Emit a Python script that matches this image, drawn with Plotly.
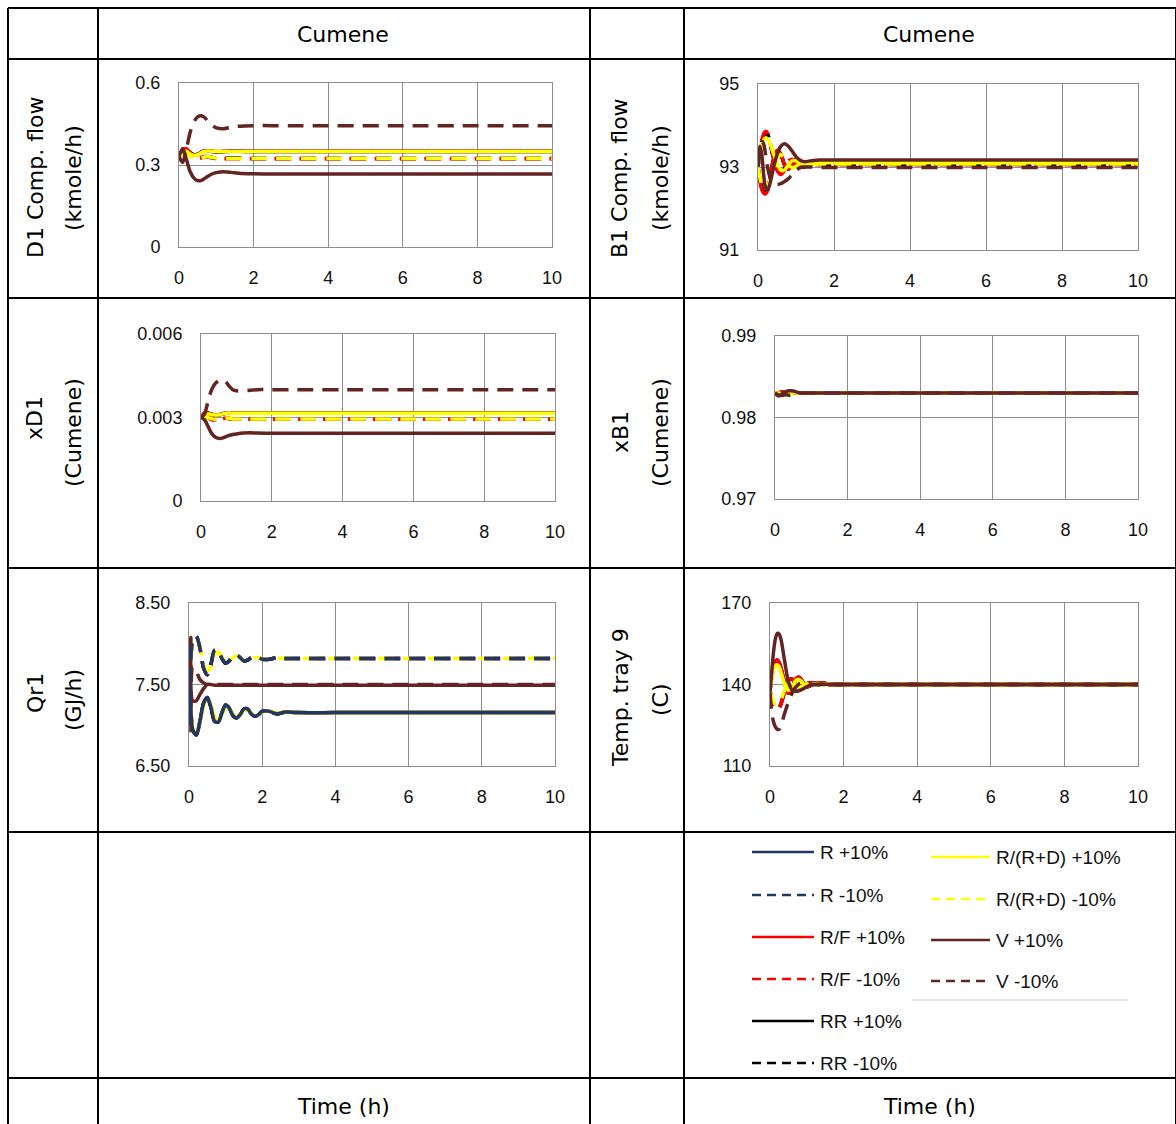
import plotly.graph_objects as go

W, H = 1176, 1124

# ---- series names, colours and styles --------------------------------------
series = ["R +10%", "R -10%", "R/F +10%", "R/F -10%", "RR +10%", "RR -10%",
          "R/(R+D) +10%", "R/(R+D) -10%", "V +10%", "V -10%"]
colors = {"R": "#1F3864", "R/F": "#FF0000", "RR": "#000000",
          "R/(R+D)": "#FFFF00", "V": "#632523"}

# ---- D1 component flow (kmole/h) -------------------------------------------
t_d1 = [0, 0.1, 0.2, 0.3, 0.4, 0.5, 0.6, 0.7, 0.8, 0.9, 1.0, 1.2, 1.4, 1.6, 2.0, 2.5, 3, 4, 6, 8, 10]
d1 = {
    "R +10%":        [0.33, 0.35, 0.355, 0.345, 0.338, 0.34, 0.347, 0.352, 0.351, 0.349, 0.348, 0.349, 0.35, 0.35, 0.349, 0.349, 0.349, 0.349, 0.349, 0.349, 0.349],
    "R -10%":        [0.33, 0.34, 0.345, 0.335, 0.325, 0.322, 0.327, 0.331, 0.329, 0.326, 0.324, 0.324, 0.325, 0.325, 0.324, 0.324, 0.324, 0.324, 0.324, 0.324, 0.324],
    "R/F +10%":      [0.33, 0.355, 0.36, 0.345, 0.335, 0.338, 0.346, 0.352, 0.352, 0.35, 0.349, 0.35, 0.35, 0.35, 0.35, 0.35, 0.35, 0.35, 0.35, 0.35, 0.35],
    "R/F -10%":      [0.33, 0.345, 0.35, 0.338, 0.33, 0.325, 0.326, 0.33, 0.331, 0.328, 0.326, 0.324, 0.323, 0.323, 0.323, 0.323, 0.323, 0.323, 0.323, 0.323, 0.323],
    "RR +10%":       [0.33, 0.35, 0.355, 0.345, 0.338, 0.34, 0.347, 0.352, 0.351, 0.349, 0.348, 0.349, 0.35, 0.35, 0.349, 0.349, 0.349, 0.349, 0.349, 0.349, 0.349],
    "RR -10%":       [0.33, 0.34, 0.345, 0.335, 0.325, 0.322, 0.327, 0.331, 0.329, 0.326, 0.324, 0.324, 0.325, 0.325, 0.324, 0.324, 0.324, 0.324, 0.324, 0.324, 0.324],
    "R/(R+D) +10%":  [0.33, 0.345, 0.35, 0.34, 0.335, 0.338, 0.345, 0.35, 0.351, 0.35, 0.349, 0.349, 0.349, 0.349, 0.349, 0.349, 0.349, 0.349, 0.349, 0.349, 0.349],
    "R/(R+D) -10%":  [0.33, 0.34, 0.342, 0.333, 0.325, 0.322, 0.325, 0.33, 0.33, 0.327, 0.325, 0.324, 0.324, 0.324, 0.324, 0.324, 0.324, 0.324, 0.324, 0.324, 0.324],
    "V +10%":        [0.33, 0.36, 0.32, 0.275, 0.252, 0.243, 0.244, 0.252, 0.261, 0.268, 0.272, 0.275, 0.273, 0.27, 0.268, 0.267, 0.267, 0.267, 0.267, 0.267, 0.267],
    "V -10%":        [0.33, 0.31, 0.36, 0.42, 0.458, 0.476, 0.48, 0.472, 0.456, 0.443, 0.436, 0.433, 0.438, 0.442, 0.444, 0.444, 0.444, 0.444, 0.444, 0.444, 0.444],
}

# ---- B1 component flow (kmole/h) -------------------------------------------
t_b1 = [0, 0.05, 0.1, 0.15, 0.2, 0.25, 0.3, 0.4, 0.5, 0.6, 0.7, 0.8, 0.9, 1.0, 1.1, 1.2, 1.4, 1.6, 1.8, 2.0, 2.5, 3, 4, 6, 8, 10]
b1 = {
    "R +10%":        [93.0, 92.7, 92.5, 92.4, 92.38, 92.45, 92.65, 93.15, 93.38, 93.3, 93.05, 92.95, 93.05, 93.18, 93.15, 93.08, 93.1, 93.12, 93.12, 93.12, 93.12, 93.12, 93.12, 93.12, 93.12, 93.12],
    "R -10%":        [93.0, 93.35, 93.6, 93.75, 93.82, 93.8, 93.65, 93.25, 92.95, 92.85, 92.95, 93.15, 93.18, 93.1, 93.0, 93.0, 93.08, 93.08, 93.08, 93.08, 93.08, 93.08, 93.08, 93.08, 93.08, 93.08],
    "R/F +10%":      [93.0, 92.65, 92.45, 92.37, 92.35, 92.42, 92.62, 93.15, 93.4, 93.32, 93.05, 92.95, 93.05, 93.2, 93.15, 93.08, 93.1, 93.12, 93.12, 93.12, 93.12, 93.12, 93.12, 93.12, 93.12, 93.12],
    "R/F -10%":      [93.0, 93.4, 93.65, 93.8, 93.86, 93.82, 93.65, 93.25, 92.92, 92.82, 92.92, 93.15, 93.18, 93.1, 93.0, 92.98, 93.06, 93.06, 93.06, 93.06, 93.06, 93.06, 93.06, 93.06, 93.06, 93.06],
    "RR +10%":       [93.0, 92.7, 92.5, 92.4, 92.38, 92.45, 92.65, 93.15, 93.38, 93.3, 93.05, 92.95, 93.05, 93.18, 93.15, 93.08, 93.1, 93.12, 93.12, 93.12, 93.12, 93.12, 93.12, 93.12, 93.12, 93.12],
    "RR -10%":       [93.0, 93.35, 93.6, 93.75, 93.82, 93.8, 93.65, 93.25, 92.95, 92.85, 92.95, 93.15, 93.18, 93.1, 93.0, 93.0, 93.06, 93.06, 93.06, 93.06, 93.06, 93.06, 93.06, 93.06, 93.06, 93.06],
    "R/(R+D) +10%":  [93.0, 93.3, 93.55, 93.65, 93.7, 93.68, 93.6, 93.35, 93.1, 92.92, 92.93, 93.05, 93.15, 93.15, 93.1, 93.07, 93.08, 93.1, 93.1, 93.1, 93.1, 93.1, 93.1, 93.1, 93.1, 93.1],
    "R/(R+D) -10%":  [93.0, 92.75, 92.55, 92.48, 92.47, 92.52, 92.65, 92.95, 93.2, 93.3, 93.2, 93.05, 92.98, 93.02, 93.08, 93.1, 93.07, 93.07, 93.07, 93.07, 93.07, 93.07, 93.07, 93.07, 93.07, 93.07],
    "V +10%":        [93.0, 93.5, 93.3, 92.8, 92.5, 92.45, 92.55, 92.95, 93.3, 93.5, 93.56, 93.5, 93.38, 93.25, 93.17, 93.13, 93.15, 93.17, 93.17, 93.17, 93.17, 93.17, 93.17, 93.17, 93.17, 93.17],
    "V -10%":        [93.0, 93.4, 93.62, 93.55, 93.3, 93.0, 92.8, 92.6, 92.58, 92.6, 92.65, 92.72, 92.82, 92.92, 92.98, 93.0, 93.0, 92.99, 92.99, 92.99, 92.99, 92.99, 92.99, 92.99, 92.99, 92.99],
}

# ---- xD1 (Cumene) -----------------------------------------------------------
t_xd1 = [0, 0.1, 0.2, 0.3, 0.4, 0.5, 0.6, 0.7, 0.8, 0.9, 1.0, 1.2, 1.4, 1.6, 2.0, 2.5, 3, 4, 6, 8, 10]
xd1 = {
    "R +10%":        [0.00300, 0.00312, 0.00315, 0.00312, 0.00309, 0.00309, 0.00312, 0.00315, 0.00316, 0.00315, 0.00315, 0.00315, 0.00315, 0.00315, 0.00315, 0.00315, 0.00315, 0.00315, 0.00315, 0.00315, 0.00315],
    "R -10%":        [0.00300, 0.00305, 0.00302, 0.00296, 0.00293, 0.00294, 0.00297, 0.00298, 0.00296, 0.00295, 0.00295, 0.00295, 0.00295, 0.00295, 0.00295, 0.00295, 0.00295, 0.00295, 0.00295, 0.00295, 0.00295],
    "R/F +10%":      [0.00300, 0.00318, 0.00316, 0.00311, 0.00308, 0.00310, 0.00314, 0.00316, 0.00316, 0.00315, 0.00315, 0.00315, 0.00315, 0.00315, 0.00315, 0.00315, 0.00315, 0.00315, 0.00315, 0.00315, 0.00315],
    "R/F -10%":      [0.00300, 0.00310, 0.00300, 0.00292, 0.00290, 0.00292, 0.00296, 0.00297, 0.00296, 0.00294, 0.00294, 0.00294, 0.00294, 0.00294, 0.00294, 0.00294, 0.00294, 0.00294, 0.00294, 0.00294, 0.00294],
    "RR +10%":       [0.00300, 0.00312, 0.00315, 0.00312, 0.00309, 0.00309, 0.00312, 0.00315, 0.00316, 0.00315, 0.00315, 0.00315, 0.00315, 0.00315, 0.00315, 0.00315, 0.00315, 0.00315, 0.00315, 0.00315, 0.00315],
    "RR -10%":       [0.00300, 0.00305, 0.00302, 0.00296, 0.00293, 0.00294, 0.00297, 0.00298, 0.00296, 0.00295, 0.00295, 0.00295, 0.00295, 0.00295, 0.00295, 0.00295, 0.00295, 0.00295, 0.00295, 0.00295, 0.00295],
    "R/(R+D) +10%":  [0.00300, 0.00310, 0.00313, 0.00311, 0.00309, 0.00309, 0.00312, 0.00315, 0.00316, 0.00315, 0.00315, 0.00315, 0.00315, 0.00315, 0.00315, 0.00315, 0.00315, 0.00315, 0.00315, 0.00315, 0.00315],
    "R/(R+D) -10%":  [0.00300, 0.00304, 0.00300, 0.00296, 0.00294, 0.00296, 0.00299, 0.00299, 0.00297, 0.00295, 0.00295, 0.00295, 0.00295, 0.00295, 0.00295, 0.00295, 0.00295, 0.00295, 0.00295, 0.00295, 0.00295],
    "V +10%":        [0.00300, 0.00292, 0.00268, 0.00243, 0.00230, 0.00225, 0.00226, 0.00231, 0.00236, 0.00239, 0.00241, 0.00244, 0.00245, 0.00244, 0.00243, 0.00243, 0.00243, 0.00243, 0.00243, 0.00243, 0.00243],
    "V -10%":        [0.00300, 0.00312, 0.00360, 0.00400, 0.00422, 0.00432, 0.00435, 0.00428, 0.00412, 0.00400, 0.00396, 0.00396, 0.00398, 0.00400, 0.00400, 0.00400, 0.00400, 0.00400, 0.00400, 0.00400, 0.00400],
}

# ---- xB1 (Cumene) -----------------------------------------------------------
t_xb1 = [0, 0.1, 0.2, 0.3, 0.4, 0.5, 0.6, 0.7, 0.8, 1.0, 1.5, 2, 4, 6, 8, 10]
xb1 = {
    "R +10%":        [0.9830, 0.9829, 0.98285, 0.9829, 0.98295, 0.9830, 0.9830, 0.9830, 0.9830, 0.9830, 0.9830, 0.9830, 0.9830, 0.9830, 0.9830, 0.9830],
    "R -10%":        [0.9830, 0.98305, 0.9831, 0.98305, 0.9830, 0.9830, 0.9830, 0.9830, 0.9830, 0.9830, 0.9830, 0.9830, 0.9830, 0.9830, 0.9830, 0.9830],
    "R/F +10%":      [0.9830, 0.9829, 0.98285, 0.9829, 0.98295, 0.9830, 0.9830, 0.9830, 0.9830, 0.9830, 0.9830, 0.9830, 0.9830, 0.9830, 0.9830, 0.9830],
    "R/F -10%":      [0.9830, 0.98305, 0.9831, 0.98305, 0.9830, 0.9830, 0.9830, 0.9830, 0.9830, 0.9830, 0.9830, 0.9830, 0.9830, 0.9830, 0.9830, 0.9830],
    "RR +10%":       [0.9830, 0.9829, 0.98285, 0.9829, 0.98295, 0.9830, 0.9830, 0.9830, 0.9830, 0.9830, 0.9830, 0.9830, 0.9830, 0.9830, 0.9830, 0.9830],
    "RR -10%":       [0.9830, 0.98305, 0.9831, 0.98305, 0.9830, 0.9830, 0.9830, 0.9830, 0.9830, 0.9830, 0.9830, 0.9830, 0.9830, 0.9830, 0.9830, 0.9830],
    "R/(R+D) +10%":  [0.9830, 0.98285, 0.98275, 0.98285, 0.98295, 0.9830, 0.9830, 0.9830, 0.9830, 0.9830, 0.9830, 0.9830, 0.9830, 0.9830, 0.9830, 0.9830],
    "R/(R+D) -10%":  [0.9830, 0.9830, 0.98285, 0.9828, 0.9829, 0.98295, 0.9830, 0.9830, 0.9830, 0.9830, 0.9830, 0.9830, 0.9830, 0.9830, 0.9830, 0.9830],
    "V +10%":        [0.9830, 0.98265, 0.9829, 0.98318, 0.98328, 0.98325, 0.98312, 0.98302, 0.9830, 0.9830, 0.9830, 0.9830, 0.9830, 0.9830, 0.9830, 0.9830],
    "V -10%":        [0.9830, 0.98275, 0.9827, 0.98278, 0.98272, 0.98282, 0.98295, 0.9830, 0.9830, 0.9830, 0.9830, 0.9830, 0.9830, 0.9830, 0.9830, 0.9830],
}

# ---- Qr1 (GJ/h) -------------------------------------------------------------
t_qr1 = [0, 0.05, 0.1, 0.2, 0.3, 0.4, 0.5, 0.6, 0.7, 0.8, 0.9, 1.0, 1.1, 1.2, 1.3, 1.4, 1.5, 1.6, 1.7, 1.8, 1.9, 2.0, 2.2, 2.4, 2.6, 2.8, 3.0, 4, 6, 8, 10]
qr1_up = [7.5, 7.2, 6.95, 6.88, 7.05, 7.27, 7.34, 7.22, 7.05, 7.04, 7.15, 7.25, 7.21, 7.12, 7.09, 7.13, 7.2, 7.2, 7.14, 7.11, 7.13, 7.17, 7.17, 7.14, 7.16, 7.16, 7.155, 7.155, 7.155, 7.155, 7.155]
qr1_dn = [7.5, 7.85, 8.02, 8.09, 7.95, 7.7, 7.62, 7.75, 7.92, 7.92, 7.82, 7.76, 7.79, 7.85, 7.86, 7.83, 7.79, 7.8, 7.83, 7.84, 7.83, 7.81, 7.81, 7.83, 7.82, 7.82, 7.82, 7.82, 7.82, 7.82, 7.82]
qr1 = {
    "R +10%":        qr1_up,
    "R -10%":        qr1_dn,
    "R/F +10%":      qr1_up,
    "R/F -10%":      qr1_dn,
    "RR +10%":       qr1_up,
    "RR -10%":       qr1_dn,
    "R/(R+D) +10%":  [7.5, 7.22, 6.98, 6.9, 7.04, 7.24, 7.33, 7.25, 7.1, 7.05, 7.13, 7.22, 7.21, 7.14, 7.1, 7.12, 7.18, 7.19, 7.15, 7.12, 7.13, 7.16, 7.17, 7.15, 7.16, 7.16, 7.155, 7.155, 7.155, 7.155, 7.155],
    "R/(R+D) -10%":  [7.5, 7.82, 8.0, 8.07, 7.97, 7.75, 7.66, 7.72, 7.86, 7.9, 7.84, 7.78, 7.79, 7.83, 7.85, 7.83, 7.8, 7.8, 7.82, 7.83, 7.83, 7.81, 7.81, 7.82, 7.82, 7.82, 7.82, 7.82, 7.82, 7.82, 7.82],
    "V +10%":        [7.5, 8.08, 7.3, 7.3, 7.38, 7.45, 7.5, 7.5, 7.49, 7.49, 7.49, 7.49, 7.49, 7.49, 7.49, 7.49, 7.49, 7.49, 7.49, 7.49, 7.49, 7.49, 7.49, 7.49, 7.49, 7.49, 7.49, 7.49, 7.49, 7.49, 7.49],
    "V -10%":        [7.5, 6.9, 7.72, 7.66, 7.56, 7.52, 7.5, 7.5, 7.5, 7.5, 7.5, 7.5, 7.5, 7.5, 7.5, 7.5, 7.5, 7.5, 7.5, 7.5, 7.5, 7.5, 7.5, 7.5, 7.5, 7.5, 7.5, 7.5, 7.5, 7.5, 7.5],
}

# ---- Temperature of tray 9 (C) ---------------------------------------------
t_tr9 = [0, 0.05, 0.1, 0.15, 0.2, 0.25, 0.3, 0.4, 0.5, 0.6, 0.7, 0.8, 0.9, 1.0, 1.1, 1.2, 1.4, 1.6, 1.8, 2.0, 2.5, 3, 4, 6, 8, 10]
tr9_up = [138, 143, 147, 148.5, 149, 148, 146, 140.5, 136.8, 138.5, 142, 142.6, 140.8, 139.2, 139.6, 140.5, 140.6, 140.2, 140, 140, 140, 140, 140, 140, 140, 140]
tr9_dn = [138, 134, 132, 131, 131, 131.5, 133, 137.5, 141.5, 142, 140, 138.5, 139, 140.2, 140.6, 140.3, 139.8, 139.9, 140, 140, 140, 140, 140, 140, 140, 140]
tr9 = {
    "R +10%":        tr9_up,
    "R -10%":        tr9_dn,
    "R/F +10%":      tr9_up,
    "R/F -10%":      tr9_dn,
    "RR +10%":       tr9_up,
    "RR -10%":       tr9_dn,
    "R/(R+D) +10%":  [138, 142, 145.5, 147, 147.2, 146.5, 144.5, 140, 137.8, 139, 141.5, 141.8, 140.5, 139.5, 139.8, 140.3, 140.3, 140.1, 140, 140, 140, 140, 140, 140, 140, 140],
    "R/(R+D) -10%":  [138, 135, 133.5, 132.8, 132.8, 133.3, 134.5, 138, 141, 141.3, 140, 139, 139.3, 140.2, 140.4, 140.1, 139.9, 140, 140, 140, 140, 140, 140, 140, 140, 140],
    "V +10%":        [137, 145, 152.5, 157, 158.8, 158.5, 156.5, 148.5, 141, 138, 137.5, 137.8, 138.4, 139.2, 139.8, 140.1, 140.2, 140, 140, 140, 140, 140, 140, 140, 140, 140],
    "V -10%":        [137, 129.5, 126, 124.3, 123.5, 123.6, 125, 129.5, 133.5, 136.8, 139, 140.3, 140.6, 140.3, 140, 139.9, 140, 140, 140, 140, 140, 140, 140, 140, 140, 140],
}

# ---- axis tick labels -------------------------------------------------------
x_ticks = [0, 2, 4, 6, 8, 10]
y_ticks = {
    "d1":  ([0, 0.3, 0.6], ["0", "0.3", "0.6"]),
    "b1":  ([91, 93, 95], ["91", "93", "95"]),
    "xd1": ([0, 0.003, 0.006], ["0", "0.003", "0.006"]),
    "xb1": ([0.97, 0.98, 0.99], ["0.97", "0.98", "0.99"]),
    "qr1": ([6.5, 7.5, 8.5], ["6.50", "7.50", "8.50"]),
    "tr9": ([110, 140, 170], ["110", "140", "170"]),
}

# ---- panel layout (pixel boxes of the plot areas) ---------------------------
default_order = [0, 1, 4, 5, 2, 3, 6, 7, 8, 9]
qr_order = [2, 3, 4, 5, 6, 7, 8, 9, 0, 1]
panels = [
    dict(key="d1",  t=t_d1,  data=d1,  box=(179, 552, 83, 247),  order=default_order),
    dict(key="b1",  t=t_b1,  data=b1,  box=(758, 1138, 84, 250), order=default_order),
    dict(key="xd1", t=t_xd1, data=xd1, box=(201, 555, 334, 501), order=default_order),
    dict(key="xb1", t=t_xb1, data=xb1, box=(775, 1138, 336, 499), order=default_order),
    dict(key="qr1", t=t_qr1, data=qr1, box=(189, 555, 603, 766), order=qr_order),
    dict(key="tr9", t=t_tr9, data=tr9, box=(770, 1138, 603, 766), order=default_order),
]


def px(x):
    return x / W


def py(y):
    return 1 - y / H


def style(name):
    base, sign = name.rsplit(" ", 1)
    return colors[base], ("solid" if sign.startswith("+") else "16px,9px")


TICK_FONT = dict(family="Liberation Sans, Arial, sans-serif", size=18, color="#111111")
CELL_FONT = dict(family="DejaVu Sans, sans-serif", size=22, color="#000000")
GRID = "#8e8e8e"

fig = go.Figure()
layout_axes = {}

for i, p in enumerate(panels, start=1):
    xa = "x" if i == 1 else f"x{i}"
    ya = "y" if i == 1 else f"y{i}"
    for k in p["order"]:
        name = series[k]
        col, dash = style(name)
        fig.add_trace(go.Scatter(
            x=p["t"], y=p["data"][name], mode="lines", name=name,
            line=dict(color=col, width=3.5, dash=dash, shape="spline", smoothing=0.8),
            xaxis=xa, yaxis=ya, showlegend=False, hoverinfo="skip"))
    x0, x1, y0, y1 = p["box"]
    tv, tt = y_ticks[p["key"]]
    layout_axes["xaxis" if i == 1 else f"xaxis{i}"] = dict(
        domain=[px(x0), px(x1)], anchor=ya, range=[0, 10],
        tickvals=x_ticks, ticktext=[str(v) for v in x_ticks],
        showgrid=True, gridcolor=GRID, gridwidth=1, zeroline=False,
        showline=True, linecolor=GRID, linewidth=1, mirror=True,
        ticks="outside", ticklen=14, tickcolor="rgba(0,0,0,0)",
        tickfont=TICK_FONT, fixedrange=True, automargin=False)
    layout_axes["yaxis" if i == 1 else f"yaxis{i}"] = dict(
        domain=[py(y1), py(y0)], anchor=xa, range=[tv[0], tv[-1]],
        tickvals=tv, ticktext=tt,
        showgrid=True, gridcolor=GRID, gridwidth=1, zeroline=False,
        showline=True, linecolor=GRID, linewidth=1, mirror=True,
        ticks="outside", ticklen=14, tickcolor="rgba(0,0,0,0)",
        tickfont=TICK_FONT, fixedrange=True, automargin=False)

# ---- table grid -------------------------------------------------------------
col_x = [8, 98, 590, 684, 1176]
row_y = [8, 59, 298, 568, 832, 1078, 1124]
shapes = []
for x in col_x:
    shapes.append(dict(type="line", xref="paper", yref="paper",
                       x0=px(x), x1=px(x), y0=py(row_y[0]), y1=py(row_y[-1]),
                       line=dict(color="#000", width=2)))
for y in row_y[:-1]:
    shapes.append(dict(type="line", xref="paper", yref="paper",
                       x0=px(col_x[0]), x1=px(col_x[-1]), y0=py(y), y1=py(y),
                       line=dict(color="#000", width=2)))

annotations = []


def cell_text(text, x, y, angle=0, font=CELL_FONT):
    annotations.append(dict(text=text, x=px(x), y=py(y), xref="paper", yref="paper",
                            showarrow=False, textangle=angle, font=font,
                            xanchor="center", yanchor="middle"))


cell_text("Cumene", 343, 35)
cell_text("Cumene", 929, 35)
cell_text("Time (h)", 343, 1106)
cell_text("Time (h)", 929, 1106)

# y-axis titles in the label columns
cell_text("D1 Comp. flow", 35, 178, -90)
cell_text("(kmole/h)", 73, 178, -90)
cell_text("B1 Comp. flow", 619, 178, -90)
cell_text("(kmole/h)", 660, 178, -90)
cell_text("xD1", 35, 418, -90)
cell_text("(Cumene)", 73, 433, -90)
cell_text("xB1", 620, 432, -90)
cell_text("(Cumene)", 660, 433, -90)
cell_text("Qr1", 35, 693, -90)
cell_text("(GJ/h)", 73, 700, -90)
cell_text("Temp. tray 9", 620, 698, -90)
cell_text("(C)", 660, 700, -90)

# ---- legend -----------------------------------------------------------------
LEG_FONT = dict(family="Liberation Sans, Arial, sans-serif", size=19, color="#111111")
legend_cols = [
    (752, 814, [852, 895, 937, 979, 1021, 1063], series[0:6]),
    (931, 990, [857, 899, 940, 981], series[6:10]),
]
for lx0, lx1, ys, names in legend_cols:
    for y, name in zip(ys, names):
        col, dash = style(name)
        shapes.append(dict(type="line", xref="paper", yref="paper",
                           x0=px(lx0), x1=px(lx1), y0=py(y), y1=py(y),
                           line=dict(color=col, width=2.5,
                                     dash="solid" if dash == "solid" else "9px,6px")))
        annotations.append(dict(text=name, x=px(lx1 + 4), y=py(y), xref="paper", yref="paper",
                                showarrow=False, font=LEG_FONT, xanchor="left", yanchor="middle"))
shapes.append(dict(type="line", xref="paper", yref="paper",
                   x0=px(912), x1=px(1128), y0=py(1000), y1=py(1000),
                   line=dict(color="#d0d0d0", width=1)))

fig.update_layout(
    width=W, height=H,
    margin=dict(l=0, r=0, t=0, b=0, autoexpand=False),
    paper_bgcolor="#ffffff", plot_bgcolor="#ffffff",
    showlegend=False,
    shapes=shapes, annotations=annotations,
    **layout_axes,
)

fig.write_html("out.html")
